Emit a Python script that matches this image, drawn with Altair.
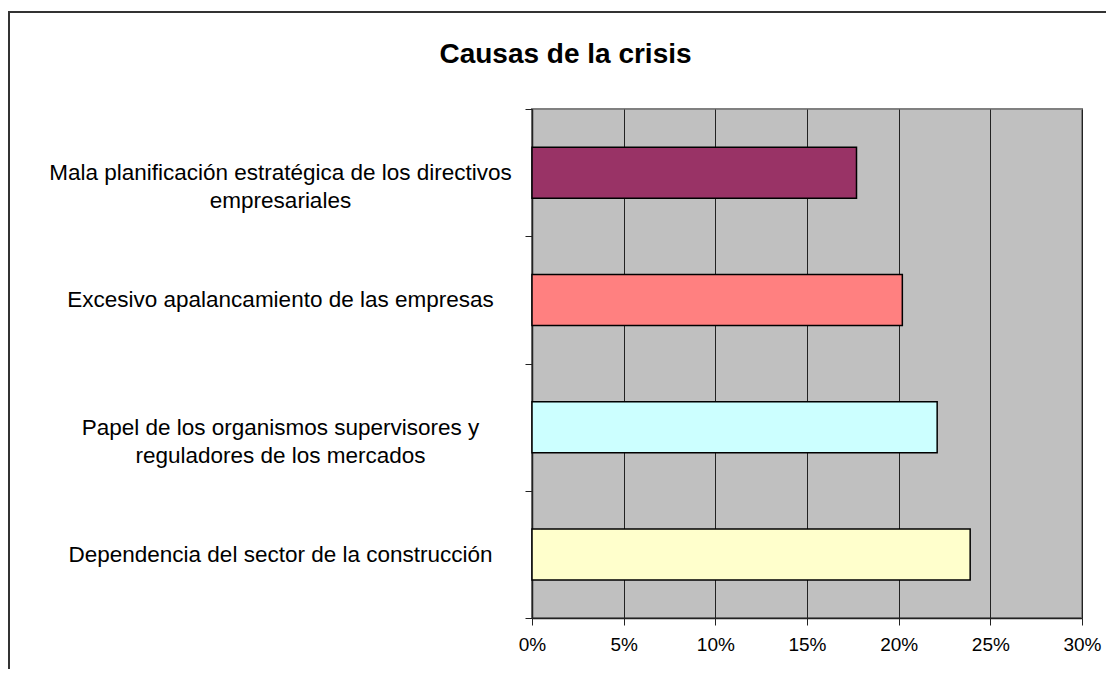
import altair as alt
import pandas as pd

categories = [
    "Mala planificación estratégica de los directivos\nempresariales",
    "Excesivo apalancamiento de las empresas",
    "Papel de los organismos supervisores y\nreguladores de los mercados",
    "Dependencia del sector de la construcción",
]
values = [0.177, 0.202, 0.221, 0.239]
colors = ["#993366", "#FF8080", "#CCFFFF", "#FFFFCC"]
x_ticks = [0, 0.05, 0.10, 0.15, 0.20, 0.25, 0.30]

df = pd.DataFrame({"causa": categories, "valor": values, "color": colors})

W, H = 550, 509
FONT = "Liberation Sans"

bars = alt.Chart(df).mark_bar(
    size=51, stroke="#000000", strokeWidth=1.5
).encode(
    x=alt.X(
        "valor:Q",
        scale=alt.Scale(domain=[0, 0.3], nice=False),
        axis=alt.Axis(
            values=x_ticks, format=".0%", title=None, grid=True,
            gridColor="#222222", gridWidth=1, gridOpacity=1,
            domainColor="#222222", domainWidth=1.5,
            tickColor="#222222", tickSize=7, tickWidth=1,
            labelFont=FONT, labelFontSize=19, labelColor="#000000",
            labelPadding=10, labelFlush=False, labelOverlap=False,
        ),
    ),
    y=alt.Y(
        "causa:N",
        sort=categories,
        scale=alt.Scale(paddingInner=0, paddingOuter=0),
        axis=alt.Axis(
            title=None, tickBand="extent", grid=False,
            domainColor="#222222", domainWidth=1.5,
            tickColor="#222222", tickSize=7, tickWidth=1,
            labelFont=FONT, labelFontSize=22.5, labelColor="#000000",
            labelAlign="center", labelBaseline="middle",
            labelPadding=245, labelLineHeight=28, labelLimit=0,
            labelExpr="split(datum.label, '\\n')",
        ),
    ),
    color=alt.Color("color:N", scale=None, legend=None),
)

frame = alt.Chart(df).mark_rect(
    fill=None, stroke="#333333", strokeWidth=2, clip=False
).encode(
    x=alt.value(-523), x2=alt.value(W + 40),
    y=alt.value(-97), y2=alt.value(H + 80),
)

chart = alt.layer(frame, bars).properties(
    width=W,
    height=H,
    title=alt.TitleParams(
        "Causas de la crisis", font=FONT, fontSize=28, fontWeight="bold",
        color="#000000", anchor="middle", frame="bounds",
        baseline="alphabetic", offset=0, dy=80,
    ),
    autosize=alt.AutoSizeParams(type="none"),
    padding={"left": 524, "top": 101, "right": 24, "bottom": 51},
).configure(
    background="#FFFFFF"
).configure_view(
    fill="#C0C0C0", stroke="#808080", strokeWidth=2
)

chart.save("out.html", embed_options={"renderer": "svg", "actions": False})
